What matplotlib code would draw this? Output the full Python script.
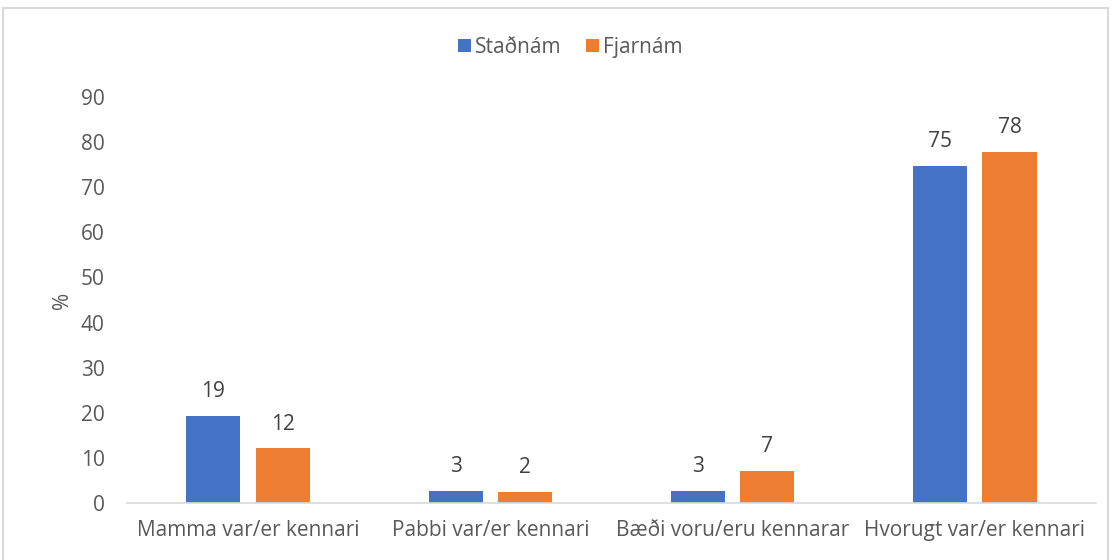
import matplotlib.pyplot as plt
import numpy as np
from matplotlib.patches import Rectangle

categories = ['Mamma var/er kennari', 'Pabbi var/er kennari',
              'Bæði voru/eru kennarar', 'Hvorugt var/er kennari']
stadnam = [19.3, 2.7, 2.7, 74.7]
fjarnam = [12.1, 2.4, 7.1, 77.8]
series_names = ['Staðnám', 'Fjarnám']
colors = ['#4472C4', '#ED7D31']
yticks = [0, 10, 20, 30, 40, 50, 60, 70, 80, 90]

plt.rcParams['font.family'] = ['Open Sans', 'DejaVu Sans']
text_col = '#595959'

fig = plt.figure(figsize=(11.12, 5.6), dpi=100)
ax = fig.add_axes([0.1142, 0.1018, 0.8714, 0.725])

x = np.arange(len(categories))
w = 0.223
off = 0.143
b1 = ax.bar(x - off, stadnam, w, color=colors[0], label=series_names[0])
b2 = ax.bar(x + off, fjarnam, w, color=colors[1], label=series_names[1])

for bars, vals in ((b1, stadnam), (b2, fjarnam)):
    for rect, v in zip(bars, vals):
        ax.annotate(f'{round(v):d}', (rect.get_x() + rect.get_width() / 2, v),
                    xytext=(0, 10), textcoords='offset points',
                    ha='center', va='bottom', fontsize=15, color='#404040')

ax.set_xlim(-0.5, len(categories) - 0.5)
ax.set_ylim(0, 90)
ax.set_yticks(yticks)
ax.set_xticks(x)
ax.set_xticklabels(categories)
ax.tick_params(axis='both', length=0, labelsize=15, colors=text_col)
ax.tick_params(axis='x', pad=12)
ax.tick_params(axis='y', pad=16)
for s in ('top', 'right', 'left'):
    ax.spines[s].set_visible(False)
ax.spines['bottom'].set_color('#D9D9D9')
ax.spines['bottom'].set_linewidth(1.2)
ax.set_ylabel('%', fontsize=15, color=text_col, labelpad=6)

fig.legend(loc='center', bbox_to_anchor=(0.513, 0.916), ncol=2, frameon=False,
           fontsize=15, labelcolor=text_col, handlelength=0.6, handleheight=0.6,
           handletextpad=0.2, columnspacing=1.2)

fig.patches.append(Rectangle((3 / 1112, -0.05), 1105 / 1112, 1.05 - 8 / 560,
                             transform=fig.transFigure, fill=False,
                             edgecolor='#D9D9D9', linewidth=1.5))

fig.savefig('out.png', dpi=100)
